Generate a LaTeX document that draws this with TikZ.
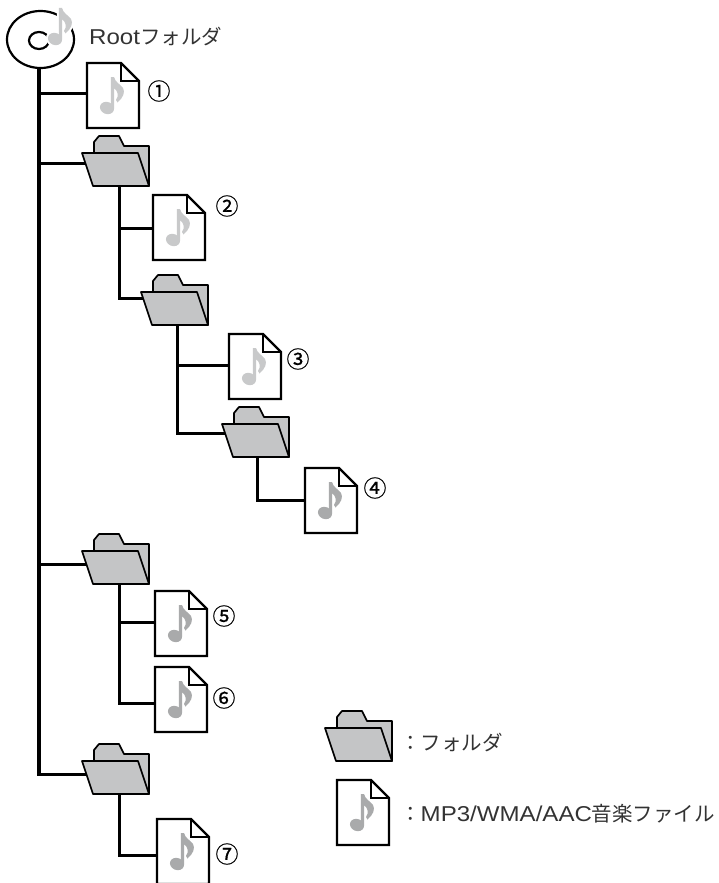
\documentclass[tikz,border=0pt]{standalone}
\usepackage{fontspec}
\usetikzlibrary{shapes.geometric}
\newfontfamily\jp{Noto Sans CJK JP}
\newfontfamily\jpnum[FakeBold=0.6]{Noto Sans CJK JP}
\newfontfamily\lat[FakeStretch=1.12]{Liberation Sans}
\newcommand{\latin}[1]{{\lat\fontsize{21.5}{22}\selectfont #1}}
\definecolor{lightnote}{HTML}{C8C9CA}
\definecolor{darknote}{HTML}{A9AAAB}
\definecolor{foldergray}{HTML}{C4C5C6}
\definecolor{inktext}{HTML}{333333}
\tikzset{
 x=1pt,y=-1pt,
 conn/.style={line width=3pt,line cap=butt,line join=miter},
 mainconn/.style={line width=3.6pt,line cap=butt,line join=miter},
 outline/.style={draw=black,line width=2.2pt,line join=miter},
 foldline/.style={draw=black,line width=1.7pt,fill=foldergray,line join=round},
 anchorbox/.style={inner sep=0pt,outer sep=0pt,minimum width=52pt,minimum height=65pt},
 folderbox/.style={inner sep=0pt,outer sep=0pt,minimum width=67pt,minimum height=50pt},
 num/.style={font=\jpnum\fontsize{23}{23}\selectfont,text=black,inner sep=0pt},
 lab/.style={font=\jp\fontsize{20.5}{22}\selectfont,text=inktext,inner sep=0pt,anchor=west},
 discshape/.style={ellipse,draw=black,line width=2.2pt,inner sep=0pt,outer sep=0pt,minimum width=67pt,minimum height=57pt},
 halo/.style={fill=white,draw=white,line width=4pt},
}
\newcommand{\notemark}[3]{%
 \begin{scope}[shift={(#1,#2)}]
 \path[#3,rotate around={-22:(20,45)}] (20,45) ellipse [x radius=7.2pt,y radius=6pt];
 \path[#3] (23.8,45) -- (23.8,14) -- (27,14)
   .. controls (28,19) and (33,21) .. (36,25)
   .. controls (38.5,29) and (36,35) .. (30.5,39.5)
   -- (29,37)
   .. controls (32,33) and (31,28) .. (27,25) -- (27,45) -- cycle;
 \end{scope}}
\newcommand{\filesym}[4]{%
 \node[anchorbox] (#1) at (#2+26,#3+32.5) {};
 \filldraw[outline,fill=white] (#2,#3) -- (#2+34,#3) -- (#2+52,#3+18) -- (#2+52,#3+65) -- (#2,#3+65) -- cycle;
 \draw[outline] (#2+34,#3) -- (#2+34,#3+18) -- (#2+52,#3+18);
 \notemark{#2}{#3}{fill=#4}}
\newcommand{\foldersym}[3]{%
 \node[folderbox] (#1) at (#2+33.5,#3+25) {};
 \path[foldline] (#2+12,#3+18) -- (#2+12,#3+6) -- (#2+17,#3+0) -- (#2+37,#3+0) -- (#2+42,#3+10) -- (#2+67,#3+10) -- (#2+67,#3+50) -- (#2+12,#3+50) -- cycle;
 \path[foldline] (#2+0,#3+17) -- (#2+56,#3+17) -- (#2+67,#3+50) -- (#2+11,#3+50) -- cycle;}
\begin{document}
\begin{tikzpicture}
\useasboundingbox (0,0) rectangle (718,883);
\clip (0,0) rectangle (718,883);
% disc
\node[discshape] (disc) at (40.5,39.5) {};
\draw[black,line width=2.2pt] (39,40.5) ellipse [x radius=10pt,y radius=8.5pt];
\notemark{35}{-6}{halo}
\notemark{35}{-6}{fill=lightnote}
% anchors for connectors
\coordinate (tr0) at (39,67);
\coordinate (b1) at (87,93);
\coordinate (b2) at (90,163);
\coordinate (b3) at (90,564);
\coordinate (b4) at (90,774);
\coordinate (tr1) at (119,184);
\coordinate (c1) at (152,228);
\coordinate (c2) at (148,298);
\coordinate (tr2) at (177,323);
\coordinate (d1) at (229,365);
\coordinate (d2) at (228,433);
\coordinate (tr3) at (257,456);
\coordinate (e1) at (305,500);
\coordinate (tr4) at (119,582);
\coordinate (g1) at (154,622);
\coordinate (g2) at (154,703);
\coordinate (tr5) at (119,792);
\coordinate (h1) at (157,855);
% connectors
\draw[mainconn] (tr0) -- ([yshift=-1.5pt]tr0 |- b4);
\draw[conn] (tr0 |- b1) -- (b1);
\draw[conn] (tr0 |- b2) -- (b2);
\draw[conn] (tr0 |- b3) -- (b3);
\draw[conn] (tr0 |- b4) -- (b4);
\draw[conn] (tr1) -- (tr1 |- c2) -- (c2);
\draw[conn] (tr1 |- c1) -- (c1);
\draw[conn] (tr2) -- (tr2 |- d2) -- (d2);
\draw[conn] (tr2 |- d1) -- (d1);
\draw[conn] (tr3) -- (tr3 |- e1) -- (e1);
\draw[conn] (tr4) -- (tr4 |- g2) -- (g2);
\draw[conn] (tr4 |- g1) -- (g1);
\draw[conn] (tr5) -- (tr5 |- h1) -- (h1);
% icons
\filesym{f1}{87}{63}{lightnote}
\foldersym{p1}{82}{136}
\filesym{f2}{153}{195}{lightnote}
\foldersym{p2}{141}{275}
\filesym{f3}{229}{334}{lightnote}
\foldersym{p3}{222}{407}
\filesym{f4}{305}{468}{darknote}
\foldersym{p4}{82}{534}
\filesym{f5}{155}{591}{darknote}
\filesym{f6}{155}{667}{darknote}
\foldersym{p5}{82}{744}
\filesym{f7}{157}{819}{darknote}
\foldersym{lp}{325}{711}
\filesym{lf}{337}{780}{darknote}
% labels
\node[lab] (root) at (89,37) {\latin{Root}フォルダ};
\node[num] (n1) at (159,91) {①};
\node[num] (n2) at (227,206) {②};
\node[num] (n3) at (298,359) {③};
\node[num] (n4) at (375,488) {④};
\node[num] (n5) at (224,616) {⑤};
\node[num] (n6) at (224,698) {⑥};
\node[num] (n7) at (227,854) {⑦};
\node[lab] (lt1) at (400,743) {：フォルダ};
\node[lab] (lt2) at (400,814) {：\latin{MP3/WMA/AAC}音楽ファイル};
\end{tikzpicture}
\end{document}
